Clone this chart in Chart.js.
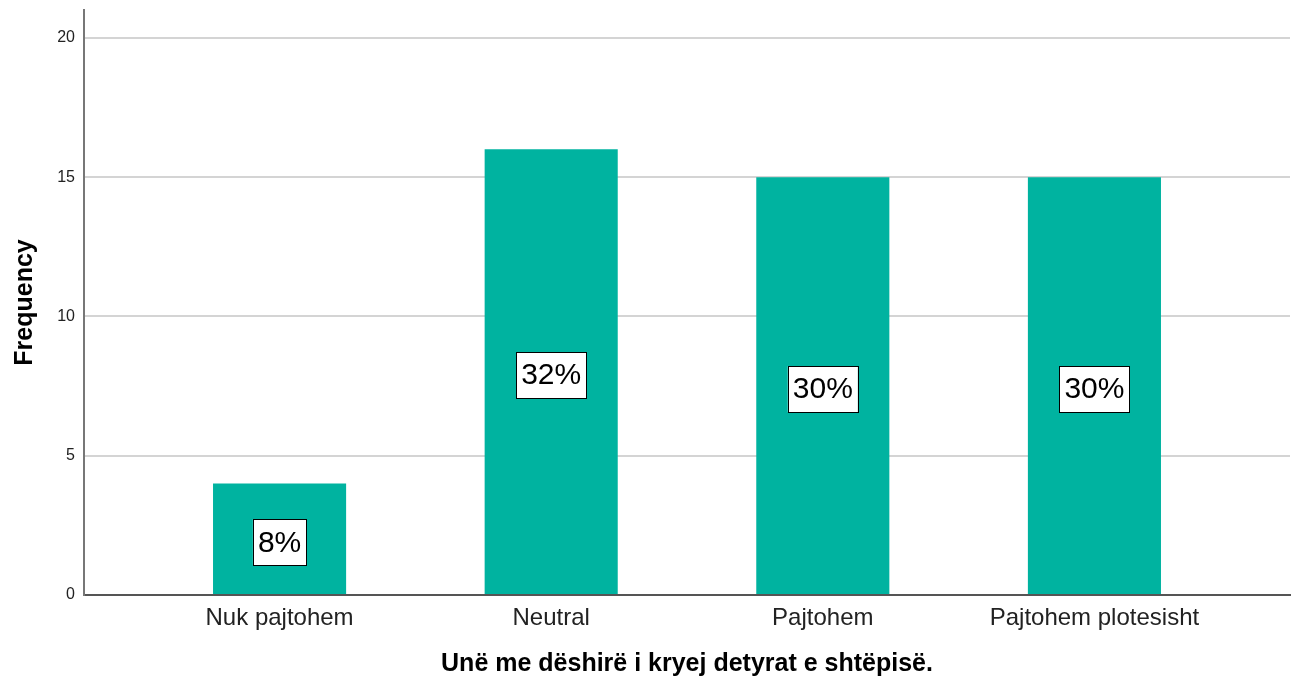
<!DOCTYPE html>
<html>
<head>
<meta charset="utf-8">
<script src="https://cdn.jsdelivr.net/npm/chart.js@4/dist/chart.umd.min.js"></script>
<style>
  html, body { margin: 0; padding: 0; background: #fff; }
  #wrap { width: 1295px; height: 679px; }
</style>
</head>
<body>
<div id="wrap"><canvas id="chart" width="1295" height="679"></canvas></div>
<script>
var categories = ['Nuk pajtohem', 'Neutral', 'Pajtohem', 'Pajtohem plotesisht'];
var frequencies = [4, 16, 15, 15];
var percentLabels = ['8%', '32%', '30%', '30%'];
var yTicks = [0, 5, 10, 15, 20];
var xTitle = 'Unë me dëshirë i kryej detyrat e shtëpisë.';
var yTitle = 'Frequency';

var barColor = 'rgb(0,179,160)';
var fontFamily = '"Liberation Sans", Arial, sans-serif';

// white boxed percentage in the middle of each bar
var percentBoxes = {
  id: 'percentBoxes',
  afterDatasetsDraw: function(chart) {
    var ctx = chart.ctx;
    var xs = chart.scales.x, ys = chart.scales.y;
    ctx.save();
    ctx.font = '30px ' + fontFamily;
    ctx.textAlign = 'center';
    ctx.textBaseline = 'middle';
    frequencies.forEach(function(v, i) {
      var cx = xs.getPixelForValue(i);
      var cy = ys.getPixelForValue(v / 2) + 3;
      var w = ctx.measureText(percentLabels[i]).width + 10;
      var h = 46;
      ctx.fillStyle = '#fff';
      ctx.fillRect(cx - w / 2, cy - h / 2, w, h);
      ctx.strokeStyle = '#000';
      ctx.lineWidth = 1;
      ctx.strokeRect(Math.round(cx - w / 2) + 0.5, Math.round(cy - h / 2) + 0.5, Math.round(w), h);
      ctx.fillStyle = '#000';
      ctx.fillText(percentLabels[i], cx, cy + 1);
    });
    ctx.restore();
  }
};

var ctx = document.getElementById('chart').getContext('2d');
new Chart(ctx, {
  type: 'bar',
  data: {
    datasets: [{
      data: frequencies.map(function(v, i) { return { x: i, y: v }; }),
      backgroundColor: barColor,
      borderWidth: 0,
      barPercentage: 0.49,
      categoryPercentage: 1
    }]
  },
  options: {
    responsive: false,
    animation: false,
    layout: { padding: { top: 10, right: 5, left: 0, bottom: 0 } },
    plugins: { legend: { display: false }, tooltip: { enabled: false } },
    scales: {
      x: {
        type: 'linear',
        offset: false,
        min: -0.72,
        max: 3.72,
        afterBuildTicks: function(scale) {
          scale.ticks = categories.map(function(c, i) { return { value: i }; });
        },
        afterFit: function(scale) { scale.height = 84; },
        ticks: {
          autoSkip: false,
          maxRotation: 0,
          padding: 9,
          color: '#222',
          font: { family: fontFamily, size: 24 },
          callback: function(v) { return categories[v]; }
        },
        grid: { display: false, drawTicks: false },
        border: { display: true, color: '#555', width: 2 },
        title: {
          display: true,
          text: xTitle,
          color: '#000',
          font: { family: fontFamily, size: 25, weight: 'bold' },
          padding: { top: 2, bottom: 0 }
        }
      },
      y: {
        min: 0,
        max: 21,
        afterBuildTicks: function(scale) {
          scale.ticks = yTicks.map(function(v) { return { value: v }; });
        },
        afterFit: function(scale) {
          scale.width = 84;
          scale.paddingTop = 0;
          scale.paddingBottom = 0;
        },
        ticks: {
          padding: 9,
          color: '#222',
          font: { family: fontFamily, size: 16 }
        },
        grid: { color: '#d4d4d4', lineWidth: 2, drawTicks: false },
        border: { display: true, color: '#777', width: 2 },
        title: {
          display: true,
          text: yTitle,
          color: '#000',
          font: { family: fontFamily, size: 25, weight: 'bold' },
          padding: { top: 10, bottom: 0 }
        }
      }
    }
  },
  plugins: [percentBoxes]
});
</script>
</body>
</html>
